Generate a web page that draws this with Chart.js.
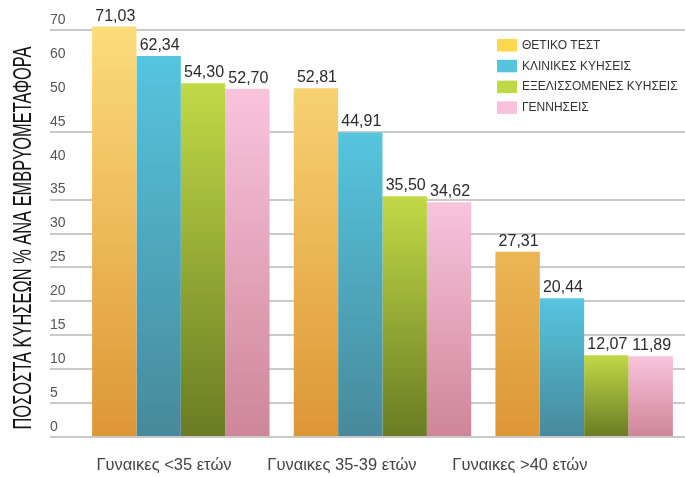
<!DOCTYPE html>
<html>
<head>
<meta charset="utf-8">
<script src="https://cdn.jsdelivr.net/npm/chart.js@4"></script>
<style>
  html, body { margin: 0; padding: 0; background: #fff; }
  #wrap { width: 685px; height: 477px; position: relative; }
</style>
</head>
<body>
<div id="wrap"><canvas id="chart"></canvas></div>
<script>
// Data
const categories = ['Γυναικες <35 ετών', 'Γυναικες 35-39 ετών', 'Γυναικες >40 ετών'];
const seriesNames = ['ΘΕΤΙΚΟ ΤΕΣΤ', 'ΚΛΙΝΙΚΕΣ ΚΥΗΣΕΙΣ', 'ΕΞΕΛΙΣΣΟΜΕΝΕΣ ΚΥΗΣΕΙΣ', 'ΓΕΝΝΗΣΕΙΣ'];
const positiveTest = [71.03, 52.81, 27.31];
const clinicalPreg = [62.34, 44.91, 20.44];
const ongoingPreg = [54.30, 35.50, 12.07];
const births = [52.70, 34.62, 11.89];
const yTicks = [0, 5, 10, 15, 20, 25, 30, 35, 40, 45, 50, 60, 70];
const yNoGrid = [40, 50, 60];
const axisTitle = 'ΠΟΣΟΣΤΑ ΚΥΗΣΕΩΝ % ΑΝΑ ΕΜΒΡΥΟΜΕΤΑΦΟΡΑ';

// Colours (top of bar, bottom of bar, legend swatch)
const palette = [
    { top: '#fcdc7c', bottom: '#dd9636', swatch: '#fdd84e', chartWide: true },
    { top: '#56c5de', bottom: '#47899a', swatch: '#55c4dd' },
    { top: '#c1d946', bottom: '#6b7b24', swatch: '#bdd943' },
    { top: '#f8c4dc', bottom: '#cf8599', swatch: '#f7c2da' }
];

// The value axis of the picture is stepped: 5 per gridline up to 50, then 10
function toUnits(v) {
    for (let i = 0; i < yTicks.length - 1; i++) {
        if (v <= yTicks[i + 1]) {
            return i + (v - yTicks[i]) / (yTicks[i + 1] - yTicks[i]);
        }
    }
    const n = yTicks.length - 1;
    return n + (v - yTicks[n]) / (yTicks[n] - yTicks[n - 1]);
}

function fromUnits(u) {
    const n = yTicks.length - 1;
    const i = Math.max(0, Math.min(n - 1, Math.floor(u)));
    return yTicks[i] + (u - i) * (yTicks[i + 1] - yTicks[i]);
}

class SteppedScale extends Chart.LinearScale {
    buildTicks() {
        return yTicks.map(v => ({ value: v }));
    }
    getPixelForValue(value) {
        return this.getPixelForDecimal(toUnits(value) / toUnits(this.max));
    }
    getValueForPixel(pixel) {
        return fromUnits(this.getDecimalForPixel(pixel) * toUnits(this.max));
    }
}
SteppedScale.id = 'stepped';
SteppedScale.defaults = Chart.LinearScale.defaults;
Chart.register(SteppedScale);

function barFill(p) {
    return (ctx) => {
        const chart = ctx.chart;
        if (!chart.chartArea || ctx.raw == null) return p.top;
        const y = chart.scales.y;
        const y0 = p.chartWide ? chart.chartArea.top : y.getPixelForValue(ctx.raw);
        const y1 = y.getPixelForValue(0);
        const g = chart.ctx.createLinearGradient(0, y0, 0, y1);
        g.addColorStop(0, p.top);
        g.addColorStop(1, p.bottom);
        return g;
    };
}

// Vertical axis title, squeezed like the condensed face of the original
const titlePlugin = {
    id: 'sideTitle',
    afterDraw(chart) {
        const c = chart.ctx;
        c.save();
        c.font = '25px "Liberation Sans", Arial, sans-serif';
        const w = c.measureText(axisTitle).width;
        c.translate(23, 238);
        c.rotate(-Math.PI / 2);
        c.scale(383 / w, 1);
        c.fillStyle = '#161616';
        c.textAlign = 'center';
        c.textBaseline = 'middle';
        c.fillText(axisTitle, 0, 1);
        c.restore();
    }
};

// Value labels above each bar
const valuePlugin = {
    id: 'values',
    afterDatasetsDraw(chart) {
        const c = chart.ctx;
        c.save();
        c.font = '16px "Liberation Sans", Arial, sans-serif';
        c.fillStyle = '#2b2b2b';
        c.textAlign = 'center';
        c.textBaseline = 'alphabetic';
        chart.data.datasets.forEach((ds, di) => {
            chart.getDatasetMeta(di).data.forEach((bar, i) => {
                const txt = ds.data[i].toFixed(2).replace('.', ',');
                c.fillText(txt, bar.x + 1, bar.y - 6);
            });
        });
        c.restore();
    }
};

// Legend box in the top right corner
const legendPlugin = {
    id: 'cornerLegend',
    afterDraw(chart) {
        const c = chart.ctx;
        c.save();
        c.font = '12px "Liberation Sans", Arial, sans-serif';
        c.textBaseline = 'middle';
        chart.data.datasets.forEach((ds, i) => {
            const top = 39 + i * 20.8;
            c.fillStyle = palette[i].swatch;
            c.fillRect(497, top, 20, 12.5);
            c.fillStyle = '#333';
            c.fillText(ds.label, 522, top + 6.5);
        });
        c.restore();
    }
};

const seriesValues = [positiveTest, clinicalPreg, ongoingPreg, births];
const labelMin = -0.472;
const labelMax = 2.928;

new Chart(document.getElementById('chart'), {
    type: 'bar',
    data: {
        labels: categories,
        datasets: seriesValues.map((vals, i) => ({
            label: seriesNames[i],
            data: vals,
            backgroundColor: barFill(palette[i]),
            borderWidth: 0,
            barPercentage: 1,
            categoryPercentage: 0.88,
            xAxisID: 'x',
            yAxisID: 'y'
        }))
    },
    options: {
        responsive: true,
        maintainAspectRatio: false,
        animation: false,
        layout: { padding: { left: 50, top: 26, right: 0, bottom: 0 } },
        plugins: {
            legend: { display: false },
            tooltip: { enabled: false }
        },
        scales: {
            x: {
                display: false,
                offset: true
            },
            // category names sit left of the bar groups in the original,
            // so they get their own axis
            x2: {
                type: 'linear',
                position: 'bottom',
                offset: false,
                bounds: 'data',
                min: labelMin,
                max: labelMax,
                afterBuildTicks: (s) => { s.ticks = categories.map((_, i) => ({ value: i })); },
                afterFit: (s) => { s.height = 40; },
                grid: { display: false, drawTicks: false, offset: false },
                border: { display: false },
                ticks: {
                    autoSkip: false,
                    maxRotation: 0,
                    padding: 19,
                    color: '#444',
                    font: { family: '"Liberation Sans", Arial, sans-serif', size: 16.5 },
                    callback: (v) => categories[v]
                }
            },
            y: {
                type: 'stepped',
                position: 'left',
                min: 0,
                max: 71.2,
                afterFit: (s) => { s.width = 30; },
                border: { display: false },
                grid: {
                    color: (ctx) => yNoGrid.includes(ctx.tick && ctx.tick.value) ? 'rgba(0,0,0,0)' : '#c9c9c9',
                    lineWidth: 2,
                    drawTicks: true,
                    tickLength: 30
                },
                ticks: {
                    crossAlign: 'far',
                    labelOffset: -10,
                    padding: 0,
                    color: '#555',
                    font: { family: '"Liberation Sans", Arial, sans-serif', size: 14 },
                    callback: (v) => String(v)
                }
            }
        }
    },
    plugins: [titlePlugin, valuePlugin, legendPlugin]
});
</script>
</body>
</html>
